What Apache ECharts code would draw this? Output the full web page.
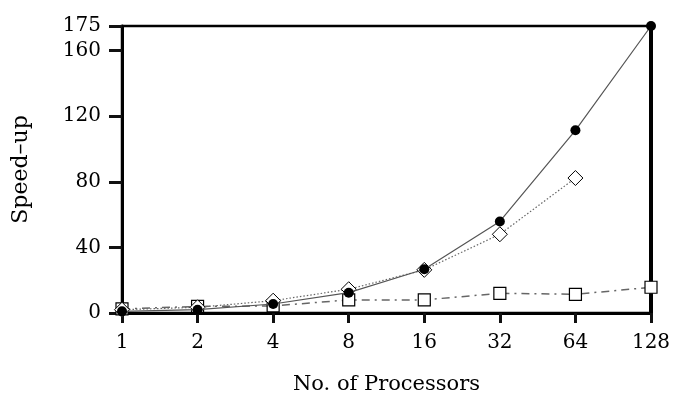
<!DOCTYPE html>
<html>
<head>
<meta charset="utf-8">
<script src="https://cdn.jsdelivr.net/npm/echarts@6/dist/echarts.min.js"></script>
<style>
  html, body { margin: 0; padding: 0; background: #fff; }
  #chart { width: 674px; height: 394px; }
</style>
</head>
<body>
<div id="chart"></div>
<script>
// Processor counts (log-2 spaced categories)
const processors = ['1', '2', '4', '8', '16', '32', '64', '128'];
// Speed-up of the three variants
const speedupCircle = [1, 2, 5.5, 12.4, 26.7, 55.8, 111.4, 175];
const speedupDiamond = [2, 3.5, 7.5, 14.5, 26.3, 48, 82.3];
const speedupSquare = [2.5, 4, 4.3, 8, 8, 12, 11.4, 15.7];
// Y scale: ticks every 40 up to the 175 maximum
const yMax = 175;
const yStep = 40;

const FONT = 'DejaVu Serif';
const INK = 'black';
const TICK_INK = '#111111';
const chart = echarts.init(document.getElementById('chart'));

chart.setOption({
  animation: false,
  grid: {
    left: 122, right: 23, top: 26, bottom: 81,
    outerBoundsMode: 'none',
    show: true, borderColor: INK, borderWidth: 2.5, backgroundColor: 'transparent'
  },
  xAxis: {
    type: 'category',
    data: processors,
    boundaryGap: false,
    name: 'No. of Processors',
    nameLocation: 'middle',
    nameGap: 61,
    nameTextStyle: { fontFamily: FONT, fontSize: 21, color: INK },
    axisLine: { show: true, lineStyle: { color: INK, width: 3 } },
    axisTick: { show: true, inside: false, length: 10, lineStyle: { color: TICK_INK, width: 3, opacity: 1 } },
    axisLabel: { fontFamily: FONT, fontSize: 20, color: INK, margin: 20 },
    splitLine: { show: false }
  },
  yAxis: [
    {
      type: 'value',
      min: 0,
      max: yMax,
      interval: yStep,
      position: 'left',
      name: 'Speed–up',
      nameLocation: 'middle',
      nameRotate: 90,
      nameGap: 90,
      nameTextStyle: { fontFamily: FONT, fontSize: 22, color: INK },
      axisLine: { show: true, lineStyle: { color: INK, width: 3 } },
      axisTick: { show: true, inside: false, length: 13, lineStyle: { color: TICK_INK, width: 3, opacity: 1 } },
      axisLabel: { fontFamily: FONT, fontSize: 20, color: INK, margin: 21 },
      splitLine: { show: false }
    },
    {
      type: 'value',
      min: 0,
      max: yMax,
      interval: yStep,
      position: 'right',
      axisLine: { show: true, lineStyle: { color: INK, width: 4 } },
      axisTick: { show: false },
      axisLabel: { show: false },
      splitLine: { show: false }
    }
  ],
  series: [
    {
      type: 'line',
      data: speedupSquare,
      symbol: 'rect',
      symbolSize: 12,
      showAllSymbol: true,
      z: 2,
      lineStyle: { color: '#666', width: 1.5, type: [8, 5, 2, 5] },
      itemStyle: { color: '#fff', borderColor: '#000', borderWidth: 1.2 }
    },
    {
      type: 'line',
      data: speedupDiamond,
      symbol: 'diamond',
      symbolSize: [15, 15],
      showAllSymbol: true,
      z: 3,
      lineStyle: { color: '#666', width: 1.2, type: [1.5, 2] },
      itemStyle: { color: '#fff', borderColor: '#000', borderWidth: 1 }
    },
    {
      type: 'line',
      data: speedupCircle,
      symbol: 'circle',
      symbolSize: 10,
      showAllSymbol: true,
      z: 4,
      lineStyle: { color: '#555', width: 1.2, type: 'solid' },
      itemStyle: { color: '#000', borderColor: '#000', borderWidth: 0 }
    }
  ]
});
</script>
</body>
</html>
